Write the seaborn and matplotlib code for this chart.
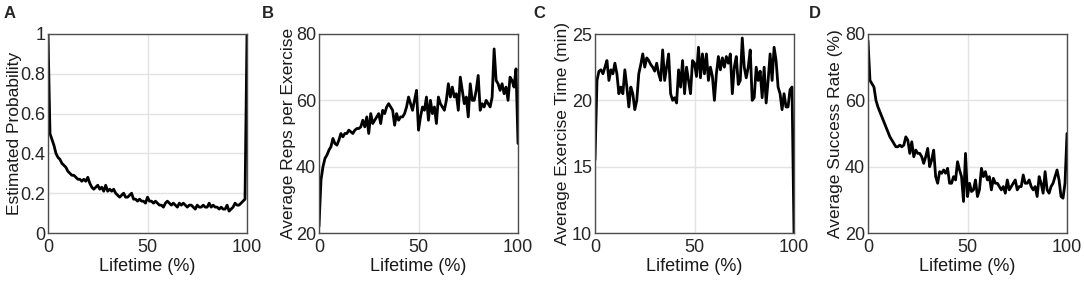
import numpy as np
import pandas as pd
import matplotlib
matplotlib.use("Agg")
import matplotlib.pyplot as plt
import seaborn as sns

lifetime = list(range(0, 101))

est_prob = [1.0, 0.50, 0.47, 0.44, 0.40, 0.38, 0.37, 0.35, 0.34, 0.33,
            0.31, 0.30, 0.29, 0.29, 0.28, 0.27, 0.27, 0.26, 0.27, 0.26,
            0.28, 0.25, 0.23, 0.22, 0.23, 0.24, 0.22, 0.23, 0.21, 0.24,
            0.21, 0.22, 0.21, 0.22, 0.20, 0.19, 0.18, 0.19, 0.20, 0.18,
            0.18, 0.19, 0.20, 0.17, 0.17, 0.16, 0.17, 0.16, 0.16, 0.15,
            0.18, 0.16, 0.16, 0.15, 0.16, 0.15, 0.14, 0.14, 0.13, 0.15,
            0.16, 0.15, 0.14, 0.15, 0.14, 0.13, 0.15, 0.14, 0.15, 0.14,
            0.13, 0.14, 0.14, 0.13, 0.12, 0.14, 0.13, 0.13, 0.14, 0.13,
            0.13, 0.15, 0.13, 0.14, 0.13, 0.13, 0.12, 0.13, 0.12, 0.12,
            0.14, 0.11, 0.12, 0.13, 0.15, 0.14, 0.14, 0.15, 0.16, 0.17,
            1.0]

avg_reps = [22, 36, 40, 42.5, 43.5, 45, 46, 48.5, 47, 46.5,
            48, 50, 49, 50, 50, 51, 50.5, 50, 51, 51.5,
            51.5, 52, 54, 52, 55, 50, 56, 53, 54, 55,
            56, 53, 57, 56, 58, 59, 58, 57, 52.5, 56,
            54, 55, 55, 56, 58, 61, 59, 57, 60, 63,
            51, 55, 58, 57, 61, 54, 60, 56, 58, 53,
            61, 59, 58, 57, 60, 65, 61, 64, 61, 62,
            57, 67, 63, 59, 61, 55, 65, 60, 60, 63,
            67.5, 57, 59, 58, 60, 59, 58, 61, 75.5, 66,
            65, 63, 65, 62, 64, 60, 67, 66, 64, 69.5,
            47]

avg_time = [15.5, 21.5, 22.2, 22.3, 22, 22.5, 23, 21.5, 22.3, 22,
            22.8, 22, 20.5, 21, 20.5, 22.3, 21, 19.5, 21, 20.5,
            19.3, 20, 22, 22.7, 23.5, 22.5, 23.2, 23, 22.7, 22.5,
            22.2, 22.8, 22, 21.5, 23.8, 21.5, 22.5, 23.5, 20.5, 20,
            20.2, 19.8, 22.3, 21, 23, 20.5, 22.5, 21.5, 20.5, 23,
            22.8, 21.8, 24, 21.7, 23.5, 22, 23.5, 21.5, 22.5, 21.8,
            20, 22, 23.3, 22.3, 23.2, 22.5, 23.3, 22.8, 23.5, 20.5,
            22.5, 23.3, 21.2, 21.5, 24.7, 22.5, 21.7, 22.5, 23.8, 20,
            20.2, 22.5, 21.5, 22.2, 20.2, 22.5, 19.8, 21.5, 23.5, 21.5,
            24, 23, 21, 20.5, 19.3, 20.5, 19.5, 19.5, 20.8, 21,
            10]

success_rate = [78, 66, 65, 64, 60, 58, 56.5, 55, 53.5, 52,
                50.5, 49, 48, 47, 46, 46, 46.5, 46, 46.5, 49,
                48, 44, 47.5, 43, 45, 44, 44, 43, 41, 43,
                45.5, 40, 42, 45, 37, 35, 38.5, 38, 39, 38,
                39.5, 35, 35, 37, 36, 41.5, 39, 37, 29.5, 44,
                31, 35, 32.5, 33, 36, 31, 33, 39.5, 37, 38.5,
                36, 37, 33, 36.5, 35, 35, 34, 33, 34, 32,
                36, 33, 34, 35, 36, 33, 34, 34, 37.5, 35,
                35, 36, 34, 33, 34, 31, 37, 35, 32, 38.5,
                33, 32, 34, 35, 37, 39, 36, 31, 30.5, 35,
                50]

panels = [
    ("A", est_prob, "Estimated Probability", (0, 1), [0, 0.2, 0.4, 0.6, 0.8, 1],
     ["0", "0.2", "0.4", "0.6", "0.8", "1"], 48),
    ("B", avg_reps, "Average Reps per Exercise", (20, 80), [20, 40, 60, 80],
     ["20", "40", "60", "80"], 319),
    ("C", avg_time, "Average Exercise Time (min)", (10, 25), [10, 15, 20, 25],
     ["10", "15", "20", "25"], 595),
    ("D", success_rate, "Average Success Rate (%)", (20, 80), [20, 40, 60, 80],
     ["20", "40", "60", "80"], 868),
]
letter_x = [4, 262, 533, 809]
ylabel_x = [-0.13, -0.115, -0.125, -0.125]

sns.set_style("whitegrid")
plt.rcParams["font.family"] = ["Liberation Sans", "DejaVu Sans"]

W, H = 1084, 283
fig = plt.figure(figsize=(W / 100, H / 100), dpi=100)

for (letter, vals, ylabel, ylim, yticks, yticklabels, left), lx, yx in zip(panels, letter_x, ylabel_x):
    ax = fig.add_axes([left / W, (H - 233) / H, 199 / W, 199 / H])
    df = pd.DataFrame({"lifetime": lifetime, "value": vals})
    sns.lineplot(data=df, x="lifetime", y="value", ax=ax, color="black", linewidth=2)
    ax.set_xlim(0, 100)
    ax.set_ylim(*ylim)
    ax.set_xticks([0, 50, 100])
    ax.set_yticks(yticks)
    ax.set_yticklabels(yticklabels)
    ax.set_xlabel("Lifetime (%)", fontsize=13, labelpad=2, color="#1a1a1a")
    ax.set_ylabel(ylabel, fontsize=12.5, color="#1a1a1a")
    ax.yaxis.set_label_coords(yx, 0.5)
    ax.tick_params(labelsize=13, direction="in", length=2, colors="#262626")
    ax.tick_params(axis="x", pad=4)
    ax.tick_params(axis="y", pad=2)
    ax.grid(True, color="#e3e3e3", linewidth=1)
    for s in ax.spines.values():
        s.set_color("#4d4d4d")
        s.set_linewidth(1)
    fig.text(lx / W, 1 - 6 / H, letter, fontsize=12, fontweight="bold", va="top", ha="left")

fig.savefig("out.png", dpi=100)
